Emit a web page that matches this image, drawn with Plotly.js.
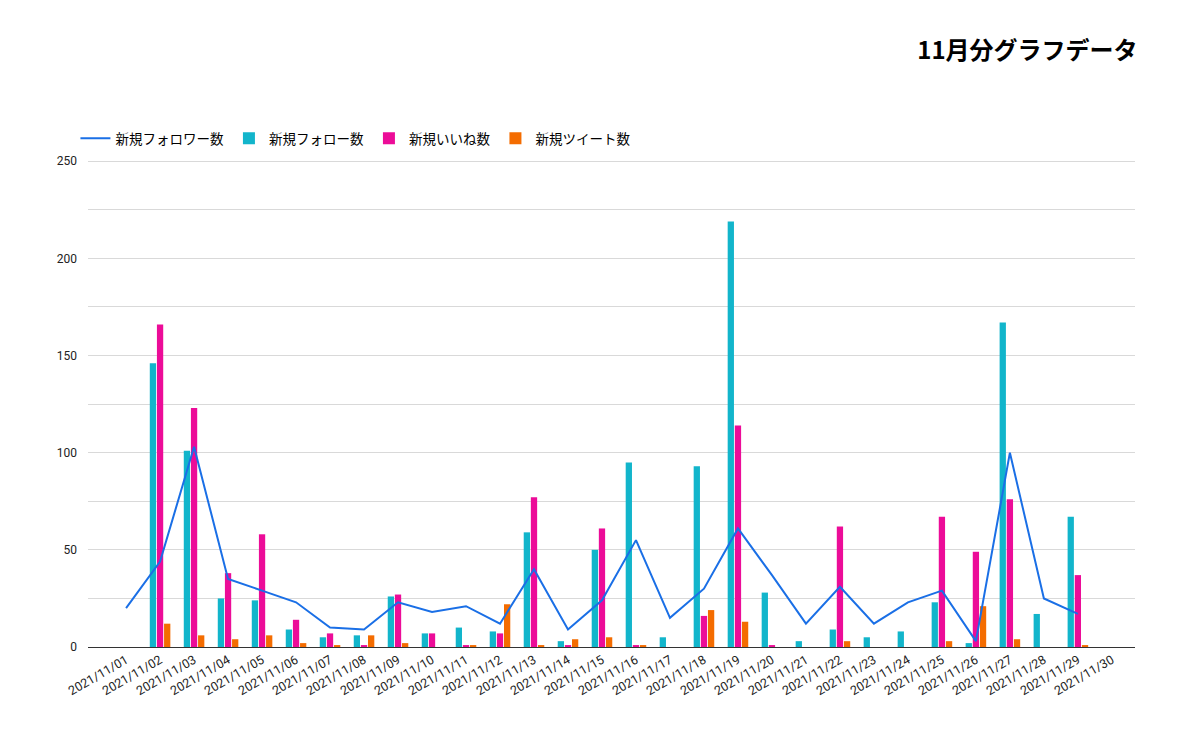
<!DOCTYPE html>
<html><head><meta charset="utf-8">
<script src="https://cdn.plot.ly/plotly-3.0.1.min.js"></script>
<style>html,body{margin:0;padding:0;background:#fff;}#chart{width:1200px;height:737px;}</style>
</head><body><div id="chart"></div>
<script>
const dates = ["2021/11/01","2021/11/02","2021/11/03","2021/11/04","2021/11/05","2021/11/06","2021/11/07","2021/11/08","2021/11/09","2021/11/10","2021/11/11","2021/11/12","2021/11/13","2021/11/14","2021/11/15","2021/11/16","2021/11/17","2021/11/18","2021/11/19","2021/11/20","2021/11/21","2021/11/22","2021/11/23","2021/11/24","2021/11/25","2021/11/26","2021/11/27","2021/11/28","2021/11/29","2021/11/30"];
const newFollowers = [20,44,103,35,29,23,10,9,23,18,21,12,40,9,24,55,15,30,61,37,12,31,12,23,29,3,100,25,17,null];
const newFollows = [0,146,101,25,24,9,5,6,26,7,10,8,59,3,50,95,5,93,219,28,3,9,5,8,23,2,167,17,67,0];
const newLikes = [0,166,123,38,58,14,7,1,27,7,1,7,77,1,61,1,0,16,114,1,0,62,0,0,67,49,76,0,37,0];
const newTweets = [0,12,6,4,6,2,1,6,2,0,1,22,1,4,5,1,0,19,13,0,0,3,0,0,3,21,4,0,1,0];
const names = ["新規フォロワー数","新規フォロー数","新規いいね数","新規ツイート数"];

const traces = [
  {type:'scatter',mode:'lines',name:names[0],x:dates,y:newFollowers,line:{color:'#1a6fe6',width:2},connectgaps:false},
  {type:'bar',name:names[1],x:dates,y:newFollows,marker:{color:'#12b5cb'}},
  {type:'bar',name:names[2],x:dates,y:newLikes,marker:{color:'#ec0c98'}},
  {type:'bar',name:names[3],x:dates,y:newTweets,marker:{color:'#f46c00'}}
];
const layout = {
  width:1200,height:737,
  paper_bgcolor:'#fff',plot_bgcolor:'#fff',
  margin:{l:88,r:65,t:160,b:90},
  font:{family:'Roboto, "Noto Sans CJK JP", sans-serif',color:'#222',size:12},
  title:{text:'11月分グラフデータ',font:{family:'"Noto Sans CJK JP", sans-serif',size:24,color:'#000',weight:'bold'},xref:'container',yref:'container',x:0.948,xanchor:'right',y:0.932,yanchor:'middle'},
  barmode:'group',bargap:0.37,bargroupgap:0.12,
  showlegend:true,
  legend:{orientation:'h',x:-0.012,xanchor:'left',y:1.076,yanchor:'top',bgcolor:'rgba(0,0,0,0)',font:{family:'"Noto Sans CJK JP", sans-serif',size:13.5,color:'#000'},traceorder:'normal',itemwidth:30},
  xaxis:{type:'category',range:[-1.12,29.68],tickangle:-30,showgrid:false,showline:true,linecolor:'#333',linewidth:1,ticks:'',tickfont:{size:12.5,color:'#222'},fixedrange:true},
  yaxis:{range:[0,250.6],dtick:50,tick0:0,showgrid:true,gridcolor:'#d9d9d9',gridwidth:1,zeroline:false,showline:false,ticks:'',ticklabelstandoff:10,tickfont:{size:12,color:'#222'},minor:{dtick:25,showgrid:true,gridcolor:'#d9d9d9',gridwidth:1},fixedrange:true}
};
Plotly.newPlot('chart',traces,layout,{displayModeBar:false,staticPlot:true});
</script>
</body></html>
